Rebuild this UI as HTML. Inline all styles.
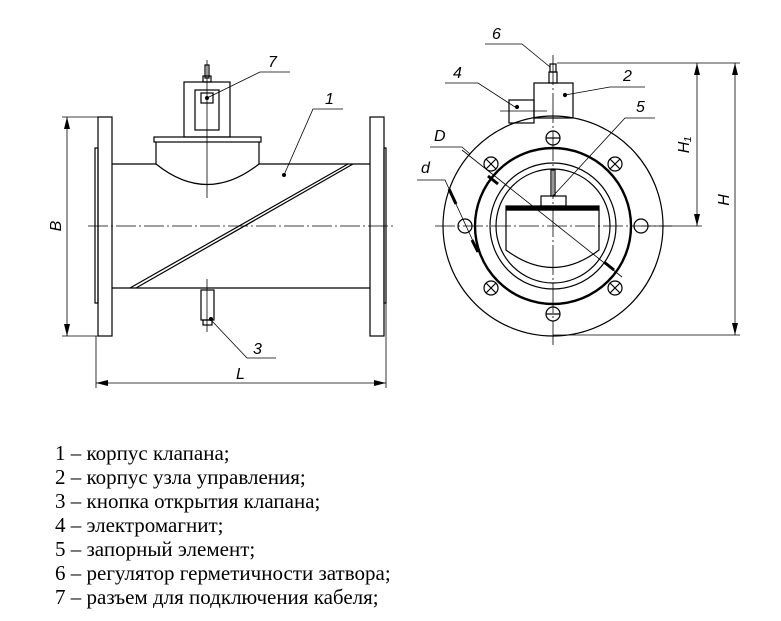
<!DOCTYPE html>
<html><head><meta charset="utf-8"><style>
html,body{margin:0;padding:0;background:#fff;}
svg{display:block;}
text{font-family:"Liberation Serif","DejaVu Serif",serif;}
.lb{font-family:"Liberation Sans",sans-serif;font-style:italic;font-size:16px;}
</style></head><body>
<svg width="781" height="621" viewBox="0 0 781 621" xmlns="http://www.w3.org/2000/svg">
<defs>
<marker id="ar" markerWidth="12" markerHeight="6" refX="12" refY="3" orient="auto" markerUnits="userSpaceOnUse"><path d="M0,0 L12,3 L0,6 z" fill="#000"/></marker>
</defs>
<g fill="none" stroke="#000" stroke-width="1.2">
<rect x="98" y="117" width="14" height="219"/>
<rect x="95" y="148" width="3" height="155"/>
<rect x="370" y="117" width="14" height="219"/>
<rect x="384" y="148" width="2" height="155"/>
<line x1="112" y1="164" x2="156" y2="164"/>
<line x1="259" y1="164" x2="370" y2="164"/>
<line x1="112" y1="288" x2="370" y2="288"/>
<path d="M156,142 L156,164 Q207,205 259,164 L259,142"/>
<rect x="154" y="137" width="107" height="5"/>
<rect x="184" y="82" width="46" height="55"/>
<rect x="195" y="90" width="24" height="40"/>
<rect x="201" y="93" width="12" height="10"/>
<rect x="205" y="65" width="4" height="13"/>
<rect x="203" y="76" width="8" height="6"/>
<line x1="207" y1="60" x2="207" y2="198" stroke-width="0.8"/>
<line x1="130" y1="288" x2="348" y2="164"/>
<line x1="136" y1="288" x2="353" y2="164"/>
<line x1="88" y1="226" x2="393" y2="226" stroke-width="0.8" stroke-dasharray="20,3,2,3"/>
<rect x="201" y="290" width="13" height="30"/>
<rect x="203" y="320" width="9" height="5"/>
<line x1="207" y1="279" x2="207" y2="332" stroke-width="0.8"/>
<polyline points="207,98 260,72 290,72" stroke-width="0.8"/>
<polyline points="284,175 313,109 343,109" stroke-width="0.8"/>
<polyline points="212,321 247,358 276,358" stroke-width="0.8"/>
<line x1="62" y1="117" x2="98" y2="117" stroke-width="0.8"/>
<line x1="62" y1="336" x2="98" y2="336" stroke-width="0.8"/>
<line x1="67" y1="226" x2="67" y2="117" stroke-width="0.8" marker-end="url(#ar)"/>
<line x1="67" y1="226" x2="67" y2="336" stroke-width="0.8" marker-end="url(#ar)"/>
<line x1="96" y1="336" x2="96" y2="388" stroke-width="0.8"/>
<line x1="386" y1="303" x2="386" y2="388" stroke-width="0.8"/>
<line x1="240" y1="383" x2="96" y2="383" stroke-width="0.8" marker-end="url(#ar)"/>
<line x1="240" y1="383" x2="386" y2="383" stroke-width="0.8" marker-end="url(#ar)"/>

<circle cx="553" cy="226" r="110"/>
<circle cx="553" cy="226" r="78" stroke-width="2.4"/>
<circle cx="553" cy="226" r="63"/>
<circle cx="553" cy="226" r="57"/>
<line x1="435" y1="226" x2="672" y2="226" stroke-width="0.8" stroke-dasharray="20,3,2,3"/>
<line x1="553" y1="55" x2="553" y2="345" stroke-width="0.8" stroke-dasharray="30,3,2,3"/>
<circle cx="465" cy="226" r="7"/>
<circle cx="641" cy="226" r="7"/>
<circle cx="553" cy="138" r="7"/><line x1="546" y1="138" x2="560" y2="138"/>
<circle cx="553" cy="314" r="7"/><line x1="546" y1="314" x2="560" y2="314"/>
<circle cx="491" cy="164" r="7"/><path d="M486,159 L496,169 M496,159 L486,169"/>
<circle cx="615" cy="164" r="7"/><path d="M610,159 L620,169 M620,159 L610,169"/>
<circle cx="491" cy="288" r="7"/><path d="M486,283 L496,293 M496,283 L486,293"/>
<circle cx="615" cy="288" r="7"/><path d="M610,283 L620,293 M620,283 L610,293"/>
<path d="M506,210 L506,250 Q553,285 599,250 L599,210 Z"/>
<rect x="506" y="206" width="93" height="4" fill="#000"/>
<rect x="541" y="196" width="25" height="10"/>
<rect x="551" y="170" width="4" height="26"/>
<rect x="534" y="83" width="39" height="35"/>
<rect x="509" y="100" width="25" height="23"/>
<rect x="549" y="72" width="8" height="11"/>
<rect x="550" y="64" width="6" height="8"/>
<line x1="500" y1="111" x2="547" y2="111" stroke-width="0.8"/>
<circle cx="517" cy="107" r="1.5" fill="#000"/>
<circle cx="565" cy="95" r="1.5" fill="#000"/>
<line x1="462" y1="150" x2="622" y2="277" stroke-width="0.8"/>
<line x1="488" y1="176" x2="498" y2="184" stroke-width="3"/>
<line x1="604" y1="262" x2="614" y2="270" stroke-width="3"/>
<polyline points="430,147 462,147 470,154" stroke-width="0.8"/>
<polyline points="417,180 445,180 478,252" stroke-width="0.8"/>
<line x1="449" y1="189" x2="456" y2="204" stroke-width="3"/>
<line x1="472" y1="240" x2="478" y2="252" stroke-width="3"/>
<polyline points="485,44 522,44 550,67" stroke-width="0.8"/>
<polyline points="445,83 478,83 515,107" stroke-width="0.8"/>
<polyline points="565,95 610,87 645,87" stroke-width="0.8"/>
<polyline points="553,196 625,118 655,118" stroke-width="0.8"/>
<line x1="557" y1="63" x2="740" y2="63" stroke-width="0.8"/>
<line x1="553" y1="335" x2="740" y2="335" stroke-width="0.8"/>
<line x1="641" y1="226" x2="702" y2="226" stroke-width="0.8"/>
<line x1="697" y1="145" x2="697" y2="63" stroke-width="0.8" marker-end="url(#ar)"/>
<line x1="697" y1="145" x2="697" y2="226" stroke-width="0.8" marker-end="url(#ar)"/>
<line x1="735" y1="200" x2="735" y2="63" stroke-width="0.8" marker-end="url(#ar)"/>
<line x1="735" y1="200" x2="735" y2="335" stroke-width="0.8" marker-end="url(#ar)"/>
</g>
<circle cx="207" cy="98" r="2" fill="#000"/>
<circle cx="284" cy="175" r="2" fill="#000"/>
<circle cx="211" cy="319" r="2" fill="#000"/>
<text class="lb" x="268" y="67">7</text>
<text class="lb" x="325" y="104">1</text>
<text class="lb" x="253" y="354">3</text>
<text class="lb" x="236" y="379">L</text>
<text class="lb" transform="translate(61,226) rotate(-90)" text-anchor="middle">B</text>
<text class="lb" x="492" y="39">6</text>
<text class="lb" x="453" y="78">4</text>
<text class="lb" x="623" y="81">2</text>
<text class="lb" x="636" y="112">5</text>
<text class="lb" x="434" y="141">D</text>
<text class="lb" x="421" y="173">d</text>
<text class="lb" transform="translate(689,145) rotate(-90)" text-anchor="middle">H₁</text>
<text class="lb" transform="translate(729,200) rotate(-90)" text-anchor="middle">H</text>
<g font-size="21" fill="#000">
<text x="55" y="460">1 – корпус клапана;</text>
<text x="55" y="484">2 – корпус узла управления;</text>
<text x="55" y="508">3 – кнопка открытия клапана;</text>
<text x="55" y="532">4 – электромагнит;</text>
<text x="55" y="556">5 – запорный элемент;</text>
<text x="55" y="580">6 – регулятор герметичности затвора;</text>
<text x="55" y="604">7 – разъем для подключения кабеля;</text>
</g>
</svg>
</body></html>
